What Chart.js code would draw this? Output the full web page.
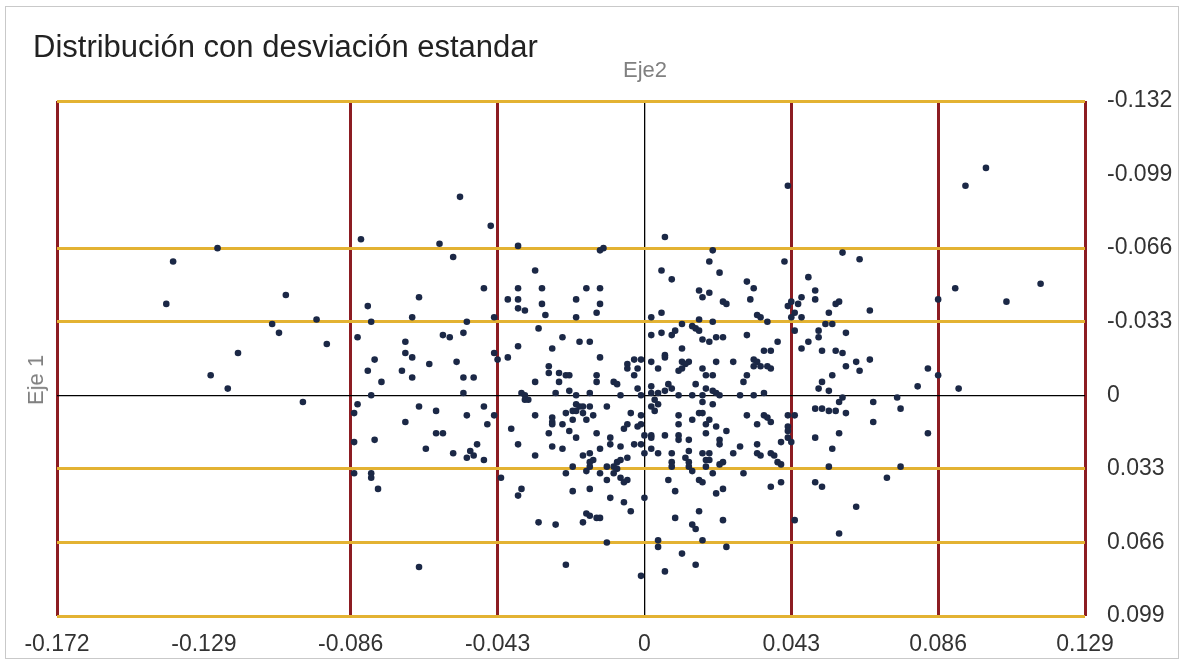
<!DOCTYPE html>
<html lang="es">
<head>
<meta charset="utf-8">
<title>Distribución con desviación estandar</title>
<script src="https://cdn.jsdelivr.net/npm/chart.js@4.4.1/dist/chart.umd.min.js"></script>
<style>
  html, body { margin: 0; padding: 0; background: #fff; }
  #wrap { position: relative; width: 1185px; height: 664px; overflow: hidden; font-family: "Liberation Sans", Arial, sans-serif; }
  #frame { position: absolute; left: 5px; top: 6px; width: 1172px; height: 651px; border: 1px solid #c9c9c9; }
  #titulo { position: absolute; left: 33px; top: 29px; font-size: 31px; color: #222; white-space: nowrap; }
  #eje2 { position: absolute; left: 645px; top: 57px; transform: translateX(-50%); font-size: 22px; color: #808080; }
  #eje1 { position: absolute; left: 36px; top: 380px; transform: translate(-50%, -50%) rotate(-90deg); font-size: 22px; color: #808080; white-space: nowrap; }
  canvas { position: absolute; left: 0; top: 0; }
</style>
</head>
<body>
<div id="wrap">
  <div id="frame"></div>
  <canvas id="grafico" width="1185" height="664"></canvas>
  <div id="titulo">Distribución con desviación estandar</div>
  <div id="eje2">Eje2</div>
  <div id="eje1">Eje 1</div>
</div>
<script>
// ticks and standard-deviation lines
const ticksX = [-0.172, -0.129, -0.086, -0.043, 0, 0.043, 0.086, 0.129];
const ticksY = [-0.132, -0.099, -0.066, -0.033, 0, 0.033, 0.066, 0.099];
const lineasX = [-0.172, -0.086, -0.043, 0.043, 0.086, 0.129];
const lineasY = [-0.132, -0.066, -0.033, 0.033, 0.066, 0.099];

// [Eje2, Eje1]
const puntos = [
  [-0.125,-0.066],[-0.138,-0.060],[-0.140,-0.041],[-0.105,-0.045],[-0.109,-0.032],[-0.107,-0.028],[-0.096,-0.034],[-0.093,-0.023],[-0.119,-0.019],[-0.127,-0.009],[-0.122,-0.003],[-0.100,0.003],
  [-0.054,-0.089],[-0.045,-0.076],[-0.083,-0.070],[-0.060,-0.068],[-0.056,-0.062],[-0.047,-0.048],[-0.066,-0.044],[-0.081,-0.040],[-0.068,-0.035],[-0.080,-0.033],[-0.044,-0.035],[-0.052,-0.033],[-0.084,-0.026],[-0.059,-0.027],[-0.057,-0.026],[-0.053,-0.028],[-0.070,-0.024],[-0.070,-0.019],[-0.068,-0.017],[-0.044,-0.019],[-0.043,-0.016],[-0.079,-0.016],[-0.063,-0.014],[-0.055,-0.015],[-0.081,-0.011],[-0.071,-0.011],[-0.068,-0.008],[-0.053,-0.008],[-0.050,-0.008],[-0.077,-0.006],[-0.053,-0.001],[-0.080,0.000],
  [-0.037,-0.067],[-0.013,-0.065],[-0.012,-0.066],[-0.032,-0.056],[-0.037,-0.048],[-0.030,-0.048],[-0.017,-0.048],[-0.013,-0.048],[-0.040,-0.043],[-0.037,-0.043],[-0.030,-0.041],[-0.020,-0.043],[-0.013,-0.041],[-0.037,-0.039],[-0.035,-0.038],[-0.029,-0.036],[-0.014,-0.037],[-0.020,-0.035],[-0.031,-0.030],[-0.024,-0.026],[-0.019,-0.024],[-0.016,-0.024],[-0.037,-0.022],[-0.027,-0.021],[-0.040,-0.017],[-0.013,-0.017],[-0.028,-0.013],[-0.028,-0.010],[-0.025,-0.010],[-0.023,-0.009],[-0.022,-0.009],[-0.025,-0.006],[-0.032,-0.006],[-0.014,-0.009],[-0.014,-0.006],[-0.009,-0.006],[-0.008,-0.005],[-0.005,-0.014],[-0.005,-0.012],[-0.003,-0.016],[-0.001,-0.016],[-0.002,-0.012],[-0.003,-0.009],[-0.002,-0.003],[-0.036,-0.001],[-0.035,0.000],[-0.026,-0.001],[-0.022,-0.002],[-0.016,-0.001],
  [-0.084,0.004],[-0.085,0.008],[-0.085,0.021],[-0.085,0.035],[-0.079,0.020],[-0.080,0.035],[-0.080,0.037],[-0.078,0.042],[-0.066,0.005],[-0.061,0.007],[-0.070,0.012],[-0.061,0.017],[-0.059,0.017],[-0.064,0.024],[-0.056,0.026],[-0.052,0.009],[-0.047,0.005],[-0.044,0.009],[-0.046,0.013],[-0.049,0.022],[-0.051,0.025],[-0.050,0.027],[-0.052,0.028],[-0.047,0.029],[-0.066,0.077],
  [-0.035,0.002],[-0.034,0.002],[-0.020,0.000],[-0.007,0.000],[-0.001,0.000],[-0.042,0.037],[-0.039,0.015],[-0.037,0.022],[-0.032,0.027],[-0.032,0.009],[-0.036,0.042],[-0.037,0.045],[-0.031,0.057],[-0.026,0.058],[-0.018,0.057],[-0.017,0.053],[-0.016,0.054],[-0.014,0.055],[-0.013,0.055],[-0.011,0.066],[-0.023,0.076],[-0.001,0.081],[-0.021,0.043],[-0.016,0.042],[-0.010,0.046],[-0.006,0.048],[-0.004,0.052],[0.000,0.046],[-0.023,0.035],[-0.021,0.032],[-0.017,0.034],[-0.016,0.032],[-0.016,0.030],[-0.015,0.029],[-0.013,0.035],[-0.011,0.038],[-0.011,0.032],[-0.009,0.032],[-0.009,0.035],[-0.008,0.033],[-0.007,0.037],[-0.006,0.039],[-0.005,0.038],[-0.008,0.030],[-0.007,0.029],[-0.005,0.028],[-0.013,0.024],[-0.016,0.026],[-0.018,0.027],[-0.027,0.023],[-0.024,0.024],[-0.010,0.019],[-0.010,0.022],[-0.014,0.017],[-0.020,0.019],[-0.022,0.016],[-0.028,0.017],[-0.027,0.010],[-0.027,0.012],[-0.027,0.013],[-0.024,0.013],
  [-0.020,0.004],[-0.019,0.005],[-0.018,0.005],[-0.016,0.005],[-0.021,0.007],[-0.020,0.007],[-0.018,0.008],[-0.023,0.008],[-0.017,0.011],[-0.021,0.011],[-0.015,0.009],[-0.011,0.005],
  [-0.004,0.008],[-0.001,0.009],[-0.001,0.013],[-0.002,0.014],[-0.005,0.013],[-0.006,0.015],[0.000,0.018],[-0.007,0.023],[-0.003,0.022],[-0.001,0.022],[0.000,0.026],
  [0.006,-0.071],[0.020,-0.065],[0.019,-0.060],[0.041,-0.060],[0.042,-0.094],[0.005,-0.056],[0.008,-0.052],[0.022,-0.055],[0.030,-0.051],[0.032,-0.048],[0.031,-0.043],[0.016,-0.047],[0.017,-0.044],[0.019,-0.046],[0.023,-0.042],[0.024,-0.041],[0.002,-0.035],[0.005,-0.037],[0.002,-0.027],[0.005,-0.028],[0.008,-0.027],[0.009,-0.029],[0.011,-0.032],[0.014,-0.031],[0.015,-0.030],[0.016,-0.034],[0.016,-0.029],[0.020,-0.033],[0.033,-0.036],[0.034,-0.035],[0.036,-0.033],[0.030,-0.027],[0.017,-0.025],[0.019,-0.024],[0.021,-0.026],[0.023,-0.026],[0.039,-0.024],[0.035,-0.020],[0.037,-0.020],[0.011,-0.021],[0.006,-0.018],[0.006,-0.017],[0.002,-0.015],[0.004,-0.012],[0.011,-0.015],[0.013,-0.015],[0.012,-0.014],[0.011,-0.012],[0.010,-0.011],[0.021,-0.015],[0.026,-0.015],[0.032,-0.016],[0.033,-0.015],[0.032,-0.013],[0.034,-0.013],[0.036,-0.013],[0.037,-0.012],[0.017,-0.012],[0.018,-0.009],[0.020,-0.009],[0.030,-0.009],[0.029,-0.006],[0.007,-0.005],[0.008,-0.003],[0.015,-0.005],[0.002,-0.004],[0.002,-0.001],[0.004,-0.001],[0.006,-0.002],[0.018,-0.003],[0.020,-0.002],[0.021,-0.001],[0.022,0.000],[0.010,0.000],[0.014,0.000],[0.017,0.000],[0.028,0.000],[0.032,0.000],[0.035,-0.001],
  [0.048,-0.053],[0.050,-0.047],[0.050,-0.043],[0.046,-0.044],[0.043,-0.042],[0.045,-0.041],[0.042,-0.040],[0.057,-0.042],[0.056,-0.041],[0.054,-0.037],[0.066,-0.038],[0.043,-0.035],[0.044,-0.037],[0.046,-0.035],[0.053,-0.032],[0.055,-0.032],[0.044,-0.029],[0.051,-0.029],[0.051,-0.026],[0.059,-0.028],[0.048,-0.024],[0.046,-0.021],[0.052,-0.020],[0.056,-0.020],[0.058,-0.019],[0.066,-0.016],[0.059,-0.013],[0.062,-0.015],[0.063,-0.011],[0.055,-0.009],[0.052,-0.006],[0.051,-0.003],[0.054,-0.002],[0.080,-0.004],[0.058,-0.064],[0.063,-0.061],[0.086,-0.043],[0.083,-0.012],[0.086,-0.009],
  [0.003,0.002],[0.004,0.004],[0.002,0.005],[0.003,0.007],[0.017,0.003],[0.020,0.004],[0.010,0.009],[0.010,0.013],[0.014,0.011],[0.016,0.008],[0.017,0.008],[0.019,0.011],[0.018,0.013],[0.021,0.014],[0.018,0.017],[0.024,0.016],[0.030,0.009],[0.033,0.013],[0.035,0.009],[0.036,0.010],[0.037,0.012],[0.042,0.009],[0.044,0.009],[0.042,0.014],[0.042,0.016],[0.002,0.018],[0.002,0.019],[0.006,0.018],[0.010,0.018],[0.010,0.020],[0.013,0.020],[0.022,0.020],[0.022,0.022],[0.040,0.021],[0.042,0.019],[0.043,0.021],[0.050,0.019],[0.033,0.022],[0.033,0.026],[0.034,0.027],[0.028,0.023],[0.026,0.026],[0.002,0.024],[0.004,0.026],[0.008,0.026],[0.013,0.025],[0.017,0.026],[0.019,0.026],[0.018,0.029],[0.019,0.029],[0.018,0.032],[0.037,0.026],[0.038,0.027],[0.039,0.030],[0.040,0.031],
  [0.012,0.028],[0.013,0.030],[0.013,0.032],[0.014,0.034],[0.008,0.030],[0.008,0.032],[0.022,0.031],[0.023,0.030],[0.020,0.035],[0.007,0.038],[0.016,0.038],[0.017,0.039],[0.029,0.035],[0.040,0.039],[0.037,0.041],[0.009,0.043],[0.021,0.044],[0.023,0.042],[0.050,0.039],[0.050,0.006],
  [0.058,0.001],[0.057,0.003],[0.067,0.003],[0.074,0.001],[0.075,0.006],[0.052,0.006],[0.054,0.007],[0.056,0.007],[0.059,0.008],[0.067,0.012],[0.057,0.017],[0.055,0.024],[0.054,0.032],[0.075,0.032],[0.071,0.037],[0.052,0.041],[0.083,0.017],[0.062,0.050],[0.044,0.056],[0.057,0.062],[0.023,0.056],[0.016,0.052],[0.014,0.058],[0.015,0.060],[0.009,0.055],[0.017,0.065],[0.024,0.068],[0.004,0.065],[0.004,0.068],[0.011,0.071],[0.015,0.076],[0.006,0.079],
  [0.100,-0.102],[0.094,-0.094],[0.091,-0.048],[0.106,-0.042],[0.116,-0.050],[0.092,-0.003]
];

const rojo = '#8c1c22';
const dorado = '#e3b232';

function enLista(lista, v) {
  return lista.some(a => Math.abs(a - v) < 1e-9);
}

function colorX(ctx) {
  const v = ctx.tick.value;
  if (v === 0) return '#000';
  return enLista(lineasX, v) ? rojo : 'rgba(0,0,0,0)';
}
function colorY(ctx) {
  const v = ctx.tick.value;
  if (v === 0) return '#000';
  return enLista(lineasY, v) ? dorado : 'rgba(0,0,0,0)';
}

new Chart(document.getElementById('grafico'), {
  type: 'scatter',
  data: {
    datasets: [{
      data: puntos.map(p => ({ x: p[0], y: p[1] })),
      backgroundColor: '#1b2846',
      borderColor: '#1b2846',
      borderWidth: 0,
      pointRadius: 3.3
    }]
  },
  options: {
    responsive: false,
    animation: false,
    layout: { padding: { left: 57, top: 101, right: 0, bottom: 0 } },
    plugins: { legend: { display: false }, tooltip: { enabled: false } },
    scales: {
      x: {
        type: 'linear',
        position: 'bottom',
        min: -0.172,
        max: 0.129,
        afterBuildTicks: s => { s.ticks = ticksX.map(v => ({ value: v })); },
        afterFit: s => { s.height = 48; },
        border: { display: false },
        grid: { drawTicks: false, color: colorX, lineWidth: c => c.tick.value === 0 ? 1.3 : 3 },
        ticks: {
          padding: 15, color: '#333', autoSkip: false, maxRotation: 0,
          font: { family: 'Liberation Sans', size: 23 },
          callback: v => String(v)
        }
      },
      y: {
        type: 'linear',
        position: 'right',
        reverse: true,
        min: -0.132,
        max: 0.099,
        afterBuildTicks: s => { s.ticks = ticksY.map(v => ({ value: v })); },
        afterFit: s => { s.width = 100; },
        border: { display: false },
        grid: { drawTicks: false, color: colorY, lineWidth: c => c.tick.value === 0 ? 1.3 : 3 },
        ticks: {
          padding: 22, color: '#333', autoSkip: false,
          font: { family: 'Liberation Sans', size: 23 },
          callback: v => String(v)
        }
      }
    }
  }
});
</script>
</body>
</html>
